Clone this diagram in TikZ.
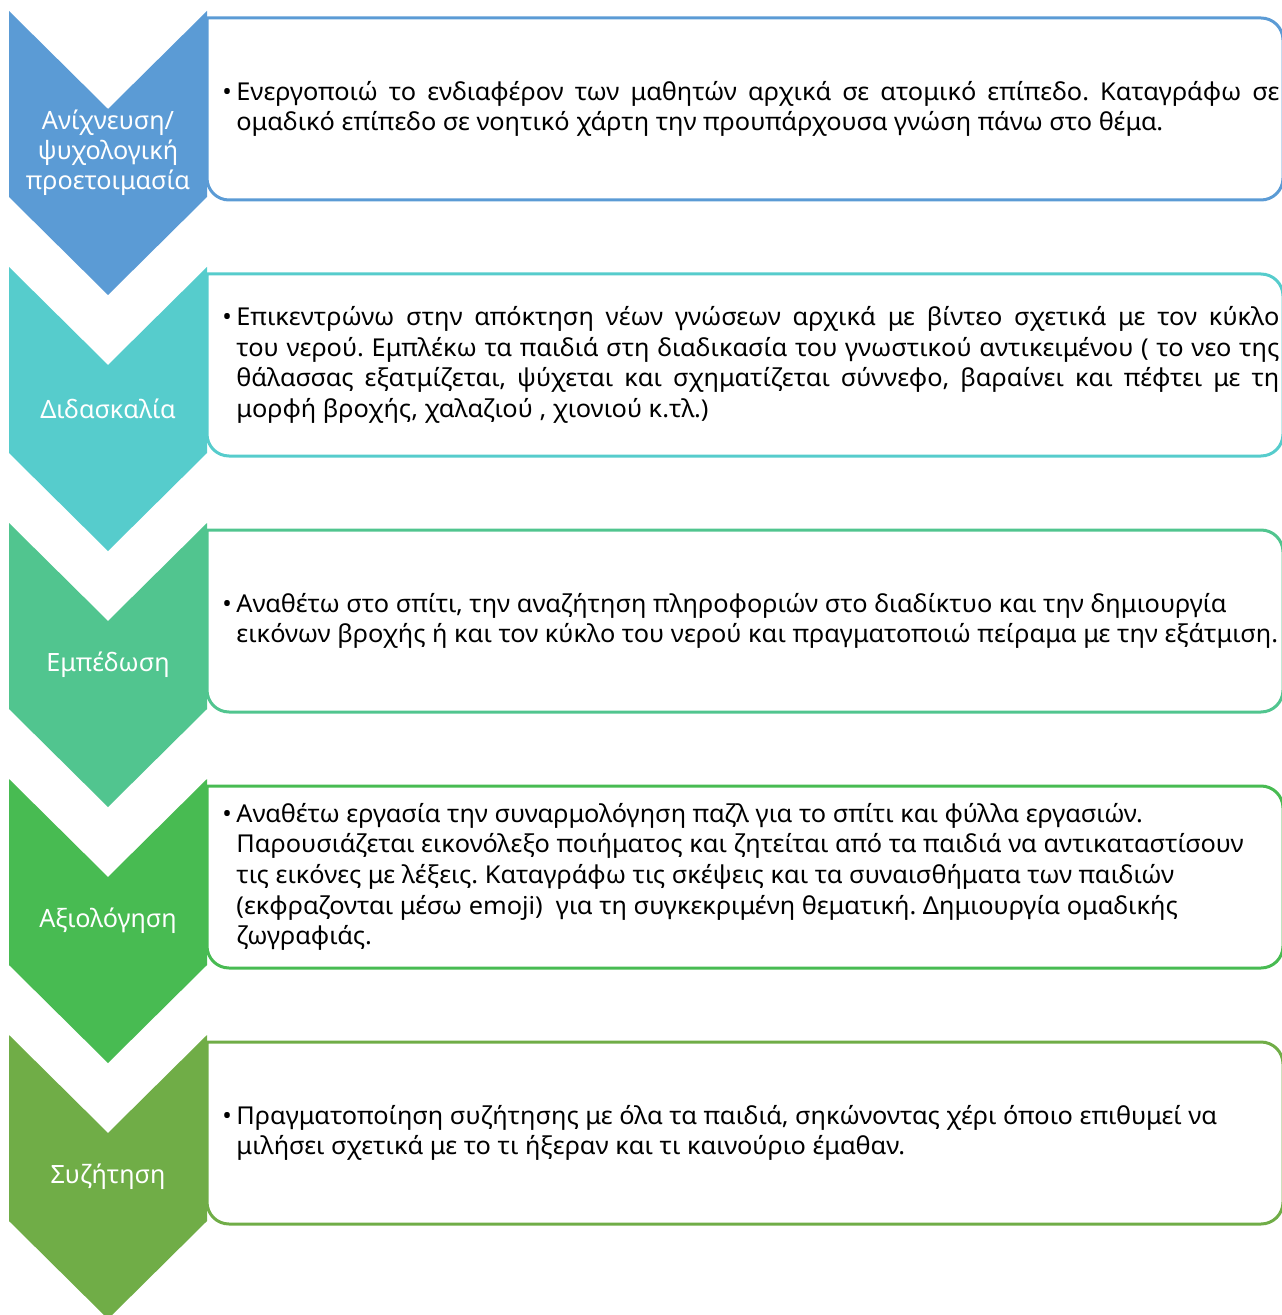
\documentclass[tikz,border=0pt]{standalone}
\usepackage{fontspec}
\setmainfont{Noto Sans}[FakeStretch=1.03]
\newfontfamily\labelfont{Noto Sans}
\definecolor{stepblue}{RGB}{91,155,213}
\definecolor{stepcyan}{RGB}{86,204,204}
\definecolor{stepteal}{RGB}{81,197,143}
\definecolor{stepgreen}{RGB}{72,187,82}
\definecolor{stepolive}{RGB}{112,173,71}
\hyphenpenalty=10000
\frenchspacing
\begin{document}
\begin{tikzpicture}[x=0.5pt, y=-0.5pt, line join=round,
    chevlabel/.style={text=white, align=center, font=\labelfont\fontsize{12.6}{15}\selectfont},
    steptext/.style={anchor=west, inner sep=0pt, text width=521.5pt, align=justify, font=\fontsize{12.3}{15.3}\selectfont}]
    \useasboundingbox (0,0) rectangle (1281,1315);
    \def\cn{98}  % chiều sâu khía
    \def\cs{186} % cạnh thẳng
    \def\gap{256} % khoảng cách các bước
    % ============= MỘT BƯỚC
    \newcommand{\stage}[4]{
    \pgfmathsetmacro{\sy}{11+\gap*(#1-1)}
    \draw[#2, line width=1.5pt] (207,\sy+7) {[rounded corners=11pt] -- (1283,\sy+7) -- (1283,\sy+189) -- (207,\sy+189)} -- cycle;
    \fill[#2] (9,\sy) -- (108,\sy+\cn) -- (207,\sy) -- (207,\sy+\cs) -- (108,\sy+\cs+\cn) -- (9,\sy+\cs) -- cycle;
    \node[chevlabel] (lab#1) at (108,\sy+142) {#3};
    \node[steptext] (txt#1) at (236,\sy+98) {\llap{\makebox[7pt][l]{•}}#4};
    }
    \stage{1}{stepblue}{Ανίχνευση/\\ψυχολογική\\προετοιμασία}{Ενεργοποιώ το ενδιαφέρον των μαθητών αρχικά σε ατομικό επίπεδο. Καταγράφω σε\linebreak ομαδικό επίπεδο σε νοητικό χάρτη την προυπάρχουσα γνώση πάνω στο θέμα.}
    \stage{2}{stepcyan}{Διδασκαλία}{Επικεντρώνω στην απόκτηση νέων γνώσεων αρχικά με βίντεο σχετικά με τον κύκλο\linebreak του νερού. Εμπλέκω τα παιδιά στη διαδικασία του γνωστικού αντικειμένου ( το νεο της\linebreak θάλασσας εξατμίζεται, ψύχεται και σχηματίζεται σύννεφο, βαραίνει και πέφτει με τη\linebreak μορφή βροχής, χαλαζιού , χιονιού κ.τλ.)}
    \stage{3}{stepteal}{Εμπέδωση}{Αναθέτω στο σπίτι, την αναζήτηση πληροφοριών στο διαδίκτυο και την δημιουργία\newline εικόνων βροχής ή και τον κύκλο του νερού και πραγματοποιώ πείραμα με την εξάτμιση.}
    \stage{4}{stepgreen}{Αξιολόγηση}{Αναθέτω εργασία την συναρμολόγηση παζλ για το σπίτι και φύλλα εργασιών.\newline Παρουσιάζεται εικονόλεξο ποιήματος και ζητείται από τα παιδιά να αντικαταστίσουν\newline τις εικόνες με λέξεις. Καταγράφω τις σκέψεις και τα συναισθήματα των παιδιών\newline (εκφραζονται μέσω emoji)\ \ για τη συγκεκριμένη θεματική. Δημιουργία ομαδικής\newline ζωγραφιάς.}
    \stage{5}{stepolive}{Συζήτηση}{Πραγματοποίηση συζήτησης με όλα τα παιδιά, σηκώνοντας χέρι όποιο επιθυμεί να\newline μιλήσει σχετικά με το τι ήξεραν και τι καινούριο έμαθαν.}
\end{tikzpicture}
\end{document}
